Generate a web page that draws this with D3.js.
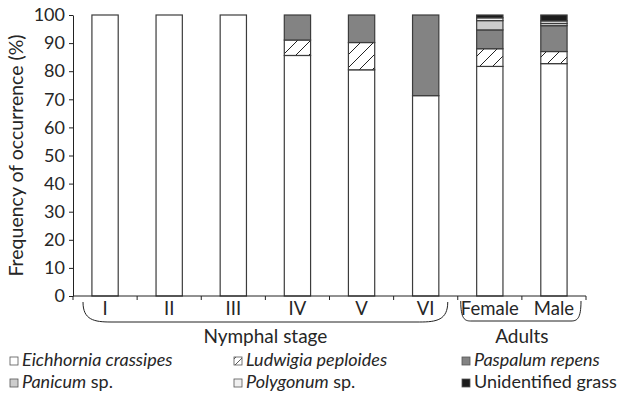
<!DOCTYPE html>
<html>
<head>
<meta charset="utf-8">
<script src="https://cdn.jsdelivr.net/npm/d3@7"></script>
<style>
  body { margin: 0; background: #fff; }
  svg { font-family: Lato, "Open Sans", sans-serif; }
</style>
</head>
<body>
<div id="chart"></div>
<script>
// categories and stacked series (% occurrence)
const categories = ['I', 'II', 'III', 'IV', 'V', 'VI', 'Female', 'Male'];
const eichhornia = [100, 100, 100, 85.6, 80.5, 71.3, 81.7, 82.7];
const ludwigia   = [0, 0, 0, 5.5, 9.7, 0, 6.3, 4.3];
const paspalum   = [0, 0, 0, 8.9, 9.8, 28.7, 6.7, 9.2];
const panicum    = [0, 0, 0, 0, 0, 0, 3.3, 0.8];
const polygonum  = [0, 0, 0, 0, 0, 0, 1.0, 0.9];
const unidentified = [0, 0, 0, 0, 0, 0, 1.0, 2.1];
const yTicks = [0, 10, 20, 30, 40, 50, 60, 70, 80, 90, 100];

const seriesList = [
    { key: 'eich', values: eichhornia, fill: '#ffffff' },
    { key: 'ludw', values: ludwigia, fill: 'url(#hatch)' },
    { key: 'pasp', values: paspalum, fill: '#838383' },
    { key: 'pani', values: panicum, fill: '#cdcdcd' },
    { key: 'poly', values: polygonum, fill: '#f0f0f0' },
    { key: 'unid', values: unidentified, fill: '#1c1c1c' }
];

const W = 630, H = 400;
const margin = { left: 73, top: 15, right: 44, bottom: 104 };
const txt = '#262626';

const svg = d3.select('#chart').append('svg')
    .attr('width', W)
    .attr('height', H);

// hatch pattern for Ludwigia
const defs = svg.append('defs');
const pat = defs.append('pattern')
    .attr('id', 'hatch')
    .attr('patternUnits', 'userSpaceOnUse')
    .attr('width', 13)
    .attr('height', 13);
pat.append('rect').attr('width', 13).attr('height', 13).attr('fill', '#fff');
pat.append('path')
    .attr('d', 'M0,13 L13,0 M-3,3 L3,-3 M10,16 L16,10')
    .attr('stroke', '#222')
    .attr('stroke-width', 1);

const x = d3.scaleBand()
    .domain(categories)
    .range([margin.left, W - margin.right])
    .padding(0);

const y = d3.scaleLinear()
    .domain([0, 100])
    .range([H - margin.bottom, margin.top]);

// stack the series
const rows = categories.map((c, i) => {
    const r = { cat: c };
    seriesList.forEach(s => { r[s.key] = s.values[i]; });
    return r;
});
const stacked = d3.stack().keys(seriesList.map(s => s.key))(rows);

const barW = x.bandwidth() * 0.41;

const layers = svg.append('g').attr('class', 'bars')
    .selectAll('g')
    .data(stacked)
    .enter()
    .append('g')
    .attr('fill', (d, i) => seriesList[i].fill);

layers.selectAll('rect')
    .data(d => d.filter(p => p[1] - p[0] > 0))
    .enter()
    .append('rect')
    .attr('x', d => x(d.data.cat) + (x.bandwidth() - barW) / 2)
    .attr('y', d => y(d[1]))
    .attr('width', barW)
    .attr('height', d => y(d[0]) - y(d[1]))
    .attr('stroke', '#3c3c3c')
    .attr('stroke-width', 1.2);

// y axis
const yAxis = svg.append('g')
    .attr('transform', `translate(${margin.left},0)`)
    .call(d3.axisLeft(y).tickValues(yTicks).tickSize(4).tickPadding(4).tickSizeOuter(0));
yAxis.select('.domain').attr('stroke', '#222');
yAxis.selectAll('.tick line').attr('stroke', '#222');
yAxis.selectAll('.tick text')
    .attr('font-size', 18)
    .attr('fill', txt)
    .attr('font-family', 'Lato, sans-serif');

// x axis: ticks at band boundaries
const xAxisG = svg.append('g').attr('class', 'x-axis');
const y0 = y(0);
xAxisG.append('line')
    .attr('x1', margin.left).attr('x2', W - margin.right)
    .attr('y1', y0).attr('y2', y0)
    .attr('stroke', '#222');
const bounds = categories.map(c => x(c) + x.bandwidth());
xAxisG.selectAll('line.tk')
    .data(bounds)
    .enter()
    .append('line')
    .attr('class', 'tk')
    .attr('x1', d => d).attr('x2', d => d)
    .attr('y1', y0).attr('y2', y0 + 4)
    .attr('stroke', '#222');
xAxisG.append('line')
    .attr('x1', margin.left).attr('x2', margin.left)
    .attr('y1', y0).attr('y2', y0 + 4)
    .attr('stroke', '#222');

xAxisG.selectAll('text')
    .data(categories)
    .enter()
    .append('text')
    .attr('x', d => x(d) + x.bandwidth() / 2)
    .attr('y', y0 + 19)
    .attr('text-anchor', 'middle')
    .attr('font-size', 18.5)
    .attr('fill', txt)
    .text(d => d);

// group braces
function brace(x1, x2, top, bottom, r) {
    return `M${x1},${top} C${x1},${bottom - 2} ${x1 + r * 0.4},${bottom} ${x1 + r},${bottom}` +
        ` L${x2 - r},${bottom} C${x2 - r * 0.4},${bottom} ${x2},${bottom - 2} ${x2},${top}`;
}
svg.append('path')
    .attr('d', brace(x('I') + 10, x('VI') + x.bandwidth() - 10, y0 + 6, y0 + 26, 28))
    .attr('fill', 'none').attr('stroke', '#222').attr('stroke-width', 1);
svg.append('path')
    .attr('d', brace(x('Female') + 3, x('Male') + x.bandwidth() - 5, y0 + 5, y0 + 25, 10))
    .attr('fill', 'none').attr('stroke', '#222').attr('stroke-width', 1);

svg.append('text')
    .attr('x', (x('I') + x('VI') + x.bandwidth()) / 2)
    .attr('y', y0 + 47)
    .attr('text-anchor', 'middle')
    .attr('font-size', 19)
    .attr('fill', txt)
    .text('Nymphal stage');
svg.append('text')
    .attr('x', x('Male'))
    .attr('y', y0 + 47)
    .attr('text-anchor', 'middle')
    .attr('font-size', 19)
    .attr('fill', txt)
    .text('Adults');

// y title
svg.append('text')
    .attr('transform', `translate(23,${(y(0) + y(100)) / 2}) rotate(-90)`)
    .attr('text-anchor', 'middle')
    .attr('font-size', 19.5)
    .attr('fill', txt)
    .text('Frequency of occurrence (%)');

// legend
const legendItems = [
    { fill: '#ffffff', name: 'Eichhornia crassipes', suffix: '', italic: true },
    { fill: 'url(#hatchSmall)', name: 'Ludwigia peploides', suffix: '', italic: true },
    { fill: '#838383', name: 'Paspalum repens', suffix: '', italic: true },
    { fill: '#cdcdcd', name: 'Panicum', suffix: ' sp.', italic: true },
    { fill: '#f0f0f0', name: 'Polygonum', suffix: ' sp.', italic: true },
    { fill: '#1c1c1c', name: 'Unidentified grass', suffix: '', italic: false }
];
const ps = defs.append('pattern')
    .attr('id', 'hatchSmall')
    .attr('patternUnits', 'userSpaceOnUse')
    .attr('width', 7).attr('height', 7);
ps.append('rect').attr('width', 7).attr('height', 7).attr('fill', '#fff');
ps.append('path').attr('d', 'M0,7 L7,0').attr('stroke', '#333').attr('stroke-width', 0.8);

const colX = [10, 234, 462];
const rowY = [366, 388];
const leg = svg.append('g').selectAll('g')
    .data(legendItems)
    .enter()
    .append('g')
    .attr('transform', (d, i) => `translate(${colX[i % 3]},${rowY[Math.floor(i / 3)]})`);
leg.append('rect')
    .attr('x', 0).attr('y', -9)
    .attr('width', 8).attr('height', 8)
    .attr('fill', d => d.fill)
    .attr('stroke', '#555')
    .attr('stroke-width', 0.8);
const lt = leg.append('text')
    .attr('x', 12)
    .attr('y', 0)
    .attr('font-size', 18)
    .attr('fill', txt);
lt.append('tspan')
    .attr('font-style', d => d.italic ? 'italic' : 'normal')
    .text(d => d.name);
lt.append('tspan')
    .text(d => d.suffix);
</script>
</body>
</html>
